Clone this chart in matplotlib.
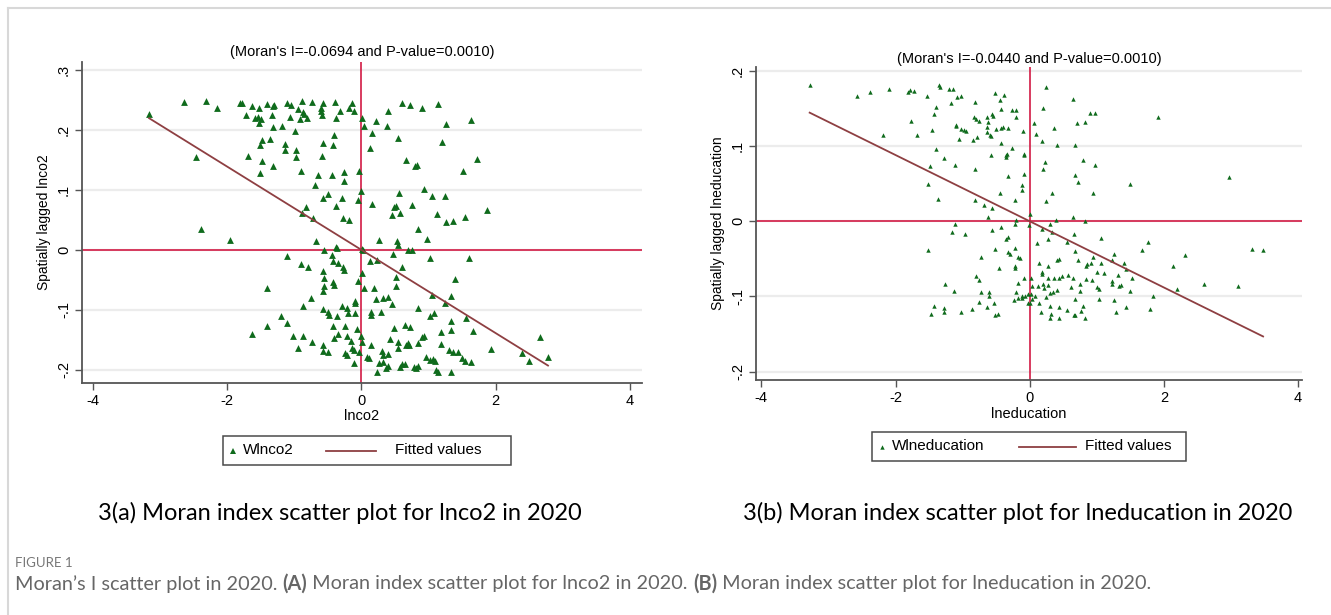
import matplotlib
matplotlib.use("Agg")
import matplotlib.pyplot as plt
from matplotlib.lines import Line2D
from matplotlib.patches import Rectangle
import numpy as np

plt.rcParams['font.family'] = ['Liberation Sans', 'DejaVu Sans']

# ---- panel (a): lnco2 vs spatially lagged lnco2 ----
lnco2 = np.array([
    -3.16, -2.64, -2.31, -2.15, -1.80, -1.77, -1.63, -1.52, -1.41, -1.32, -1.30, -1.11,
    -1.04, -0.95, -0.88, -0.87, -0.74, -0.60, -0.57, -0.39, -0.32, -0.19, -0.14, -0.11,
    0.01, 0.04, 0.22, 0.38, 0.40, 0.60, 0.73, 0.91, 1.14, 1.26, 1.64,
    -1.72, -1.59, -1.54, -1.53, -1.50, -1.33, -1.31, -1.18, -1.06, -0.99, -0.92, -0.86,
    -0.81, -0.60, -0.59, -0.38, -0.41, -0.57, -0.42, 0.16, 0.13, 0.54, 1.20, 1.73,
    -1.51, -1.48, -1.36, -1.14, -1.13, -0.97, -0.98, -0.59, -1.69, -1.48, -1.32, -2.46,
    -1.51, -0.90, -0.64, -0.44, -0.26, -0.26, -0.03, -0.69, 0.66, 0.80, 0.83, 1.52,
    -0.57, -0.50, -0.29, -0.05, 0.00, -0.38, -0.82, -0.88, -0.72, -0.27, -0.19, 0.16,
    0.49, 0.51, 0.46, 0.57, 0.56, 0.75, 0.93, 1.05, 1.24, 1.13, 1.26, 1.36, 1.55, 1.87,
    -2.39, 0.85,
    -1.96, -0.68, 0.26, 0.53, 0.54, 0.98, -0.56, -0.37, -0.36, 0.01, 0.02, 0.47, 0.69, 0.76,
    -1.11, -0.44, -0.42, -0.35, -0.28, -0.26, -0.90, -0.80, 0.13, 0.24, 1.03, 1.61, 0.61,
    -0.57, -0.55, -0.42, -0.40, -0.56, -0.57, 0.01, -0.05, 0.04, 0.19, 0.52, 0.52, 1.40, -1.40,
    -0.75, -0.29, -0.10, -0.09, 0.22, 0.32, 0.40, 0.46, 1.05, 1.34, 1.25, -0.87,
    -0.57, -0.50, -0.48, -0.36, -0.22, -0.20, -0.10, 0.14, 0.15, 0.30, 0.84, 1.02, 1.08, 1.56,
    -1.19, -1.11,
    -1.40, -0.42, -0.25, -0.07, 0.48, 0.65, 0.72, 1.33, 1.33, 1.67,
    -1.63, -1.02, -0.87, -0.74, -0.41, -0.35, -0.22, -0.16, 0.00, 0.01, 0.42, 0.55, 0.67, 0.70,
    0.85, 0.91, 0.93, 1.18, 1.18,
    -0.95, -0.57, -0.57, -0.50, -0.25, -0.21, -0.14, -0.11, -0.03, 0.09, 0.12, 0.15, 0.31, 0.32,
    0.40, 0.54, 0.71, 0.96, 1.02, 1.09, 1.06, 1.30, 1.36, 1.44, 1.50, 1.55, 1.63, 1.93, 2.40,
    2.50, 2.66, 2.78,
    -0.11, 0.24, 0.27, 0.33, 0.37, 0.40, 0.58, 0.60, 0.65, 0.78, 0.82, 0.85, 1.11, 1.14, 1.33,
])
w_lnco2 = np.array([
    0.227, 0.247, 0.248, 0.236, 0.244, 0.245, 0.240, 0.236, 0.243, 0.240, 0.241, 0.245,
    0.242, 0.234, 0.248, 0.230, 0.246, 0.236, 0.244, 0.247, 0.232, 0.236, 0.245, 0.231,
    0.219, 0.206, 0.215, 0.207, 0.232, 0.244, 0.242, 0.236, 0.243, 0.209, 0.216,
    0.224, 0.219, 0.221, 0.211, 0.218, 0.224, 0.205, 0.206, 0.222, 0.198, 0.218, 0.227,
    0.219, 0.231, 0.224, 0.219, 0.192, 0.178, 0.175, 0.194, 0.169, 0.186, 0.179, 0.152,
    0.174, 0.183, 0.184, 0.176, 0.167, 0.166, 0.154, 0.157, 0.156, 0.148, 0.140, 0.155,
    0.128, 0.132, 0.125, 0.125, 0.129, 0.115, 0.131, 0.108, 0.149, 0.139, 0.142, 0.132,
    0.086, 0.093, 0.087, 0.083, 0.098, 0.073, 0.072, 0.062, 0.053, 0.053, 0.049, 0.077,
    0.071, 0.073, 0.058, 0.062, 0.094, 0.075, 0.101, 0.089, 0.089, 0.059, 0.046, 0.048, 0.055, 0.067,
    0.034, 0.034,
    0.017, 0.014, 0.016, 0.015, 0.008, 0.018, -0.001, 0.004, 0.003, 0.002, 0.000, -0.007, 0.000, 0.000,
    -0.010, -0.008, -0.018, -0.022, -0.028, -0.033, -0.024, -0.029, -0.018, -0.017, -0.014, -0.013, -0.029,
    -0.036, -0.047, -0.053, -0.058, -0.061, -0.069, -0.039, -0.052, -0.064, -0.064, -0.046, -0.061, -0.048, -0.064,
    -0.081, -0.093, -0.086, -0.089, -0.082, -0.081, -0.079, -0.091, -0.075, -0.077, -0.088, -0.094,
    -0.098, -0.104, -0.109, -0.111, -0.097, -0.106, -0.106, -0.109, -0.103, -0.103, -0.097, -0.111, -0.106, -0.114,
    -0.110, -0.122,
    -0.127, -0.127, -0.127, -0.132, -0.131, -0.126, -0.128, -0.119, -0.134, -0.136,
    -0.141, -0.143, -0.143, -0.154, -0.147, -0.140, -0.144, -0.152, -0.143, -0.153, -0.148, -0.154, -0.158, -0.156,
    -0.156, -0.146, -0.144, -0.137, -0.157,
    -0.163, -0.158, -0.168, -0.171, -0.172, -0.175, -0.164, -0.167, -0.171, -0.179, -0.181, -0.158, -0.168, -0.175,
    -0.174, -0.163, -0.159, -0.179, -0.183, -0.186, -0.182, -0.167, -0.171, -0.171, -0.181, -0.185, -0.187, -0.165, -0.172,
    -0.186, -0.146, -0.179,
    -0.189, -0.203, -0.189, -0.187, -0.197, -0.193, -0.196, -0.191, -0.191, -0.196, -0.197, -0.193, -0.200, -0.203, -0.203,
])
moran_co2 = -0.0694

# ---- panel (b): lneducation vs spatially lagged lneducation ----
lnedu = np.array([
    -3.28, -2.58, -2.38, -2.09, -1.82, -1.79, -1.72, -1.53, -1.35, -1.33, -1.21, -1.14,
    -1.09, -1.03, -0.82, -0.52, -0.44, -0.38, -0.43, -0.26, -0.21, -0.20, 0.24, 0.20,
    0.65, 0.90, 0.97, 1.92,
    -1.39, -1.43, -1.17, -1.77, -1.10, -1.10, -1.03, -0.98, -0.95, -0.83, -0.80, -0.76,
    -0.63, -0.56, -0.55, -0.62, -0.63, -0.50, -0.43, -0.40, -0.33, -0.10, 0.07, 0.10,
    0.36, 0.70, 0.83, -0.59, -0.58, -0.64,
    -2.19, -1.68, -1.45, -1.05, -0.85, -0.78, -0.42, -0.26, 0.19, 0.40, 0.68,
    -1.40, -1.28, -1.12, -1.49, -0.82, -0.57, -0.36, -0.35, -0.34, -0.09, -0.08, 0.23,
    0.20, 0.80, 0.97,
    -1.52, -0.33, -0.09, -0.11, -0.11, -0.44, 0.67, 0.72, 0.95, 0.33, 1.50, 2.97,
    -1.36, -0.82, -0.68, -0.56, -0.22, 0.24,
    0.00, 0.64, -0.62, -0.20, -0.22, -0.01, 0.39, 0.30, 0.82,
    -1.12, -1.16, -0.97, -0.56, -0.43, 0.18, 0.33, 0.66, -0.35, -0.32, 0.11, 0.28, 0.55,
    1.07, 1.77, 1.68,
    -1.51, -0.52, -0.32, -0.29, -0.22, -0.18, -0.15, -0.72, 0.67, 0.94, 1.25, 1.23, 1.41,
    2.31, 3.32, 3.48,
    -0.45, -0.22, -0.22, 0.14, 0.28, 0.40, 0.43, 0.72, 0.84, 0.86, 0.91, 1.07, 1.43, 2.13,
    -0.80, -0.75, -0.08, 0.02, 0.18, 0.18, 0.27, 0.36, 0.43, 0.48, 0.57, 0.65, 0.84, 0.93,
    1.00, 1.11, 1.23, 1.31, 1.53,
    -1.26, -1.13, -0.73, -0.60, -0.61, -0.17, 0.03, 0.12, 0.20, 0.22, 0.28, 0.30, 0.35, 0.41,
    -0.21, -0.12, -0.07, -0.02, 0.02, 0.08, 0.61, 0.75, 0.75, 1.01, 1.04, 1.22, 1.33, 1.36,
    1.49, 1.84, 2.19, 2.60, 3.11,
    -1.42, -1.27, -1.27, -1.47, -1.02, -0.86, -0.75, -0.63, -0.52, -0.47, -0.53, -0.24,
    -0.18, -0.12, -0.02, 0.00, 0.04, 0.14, 0.17, 0.25, 0.30, 0.32, 0.44, 0.31, 0.43, 0.55,
    0.66, 0.68, 0.76, 0.79, 0.82, 0.67, 1.03, 1.26, 1.29, 1.43, 1.79,
])
w_lnedu = np.array([
    0.181, 0.166, 0.172, 0.176, 0.172, 0.175, 0.173, 0.166, 0.181, 0.179, 0.176, 0.176,
    0.165, 0.166, 0.158, 0.170, 0.161, 0.168, 0.149, 0.148, 0.148, 0.139, 0.179, 0.150,
    0.162, 0.144, 0.144, 0.139,
    0.152, 0.143, 0.157, 0.133, 0.128, 0.127, 0.123, 0.121, 0.120, 0.138, 0.136, 0.133,
    0.138, 0.143, 0.140, 0.132, 0.125, 0.123, 0.124, 0.125, 0.124, 0.120, 0.130, 0.116,
    0.124, 0.130, 0.132, 0.114, 0.113, 0.119,
    0.114, 0.115, 0.121, 0.109, 0.108, 0.112, 0.104, 0.098, 0.107, 0.101, 0.101,
    0.096, 0.084, 0.075, 0.074, 0.069, 0.088, 0.088, 0.086, 0.090, 0.089, 0.088, 0.079,
    0.069, 0.082, 0.075,
    0.050, 0.060, 0.063, 0.048, 0.041, 0.037, 0.061, 0.052, 0.038, 0.037, 0.050, 0.059,
    0.030, 0.028, 0.021, 0.018, 0.028, 0.027,
    0.009, 0.005, 0.005, 0.001, -0.004, -0.005, 0.001, -0.003, 0.000,
    -0.003, -0.014, -0.017, -0.012, -0.007, -0.010, -0.014, -0.017, -0.024, -0.021, -0.029, -0.024, -0.027,
    -0.022, -0.027, -0.038,
    -0.038, -0.037, -0.041, -0.043, -0.035, -0.048, -0.049, -0.047, -0.039, -0.048, -0.044, -0.052, -0.056,
    -0.045, -0.037, -0.038,
    -0.062, -0.059, -0.062, -0.055, -0.059, -0.051, -0.050, -0.052, -0.059, -0.057, -0.056, -0.056, -0.063, -0.059,
    -0.073, -0.078, -0.076, -0.075, -0.068, -0.070, -0.075, -0.075, -0.076, -0.073, -0.072, -0.075, -0.077, -0.078,
    -0.067, -0.069, -0.080, -0.072, -0.076,
    -0.083, -0.093, -0.094, -0.094, -0.100, -0.082, -0.086, -0.086, -0.084, -0.089, -0.085, -0.095, -0.094, -0.092,
    -0.094, -0.100, -0.099, -0.097, -0.097, -0.100, -0.087, -0.083, -0.093, -0.088, -0.090, -0.083, -0.086, -0.085,
    -0.093, -0.099, -0.090, -0.084, -0.086,
    -0.113, -0.115, -0.121, -0.123, -0.121, -0.117, -0.107, -0.114, -0.125, -0.123, -0.108, -0.105,
    -0.102, -0.102, -0.109, -0.108, -0.103, -0.109, -0.121, -0.101, -0.113, -0.123, -0.114, -0.128, -0.128, -0.118,
    -0.125, -0.124, -0.119, -0.112, -0.128, -0.104, -0.104, -0.105, -0.121, -0.114, -0.117,
])
moran_edu = -0.0440

xticks = [-4, -2, 0, 2, 4]
yticks_a = [-0.2, -0.1, 0, 0.1, 0.2, 0.3]
ylabels_a = ['-.2', '-.1', '0', '.1', '.2', '.3']
yticks_b = [-0.2, -0.1, 0, 0.1, 0.2]
ylabels_b = ['-.2', '-.1', '0', '.1', '.2']

GREEN = '#0f6b1c'
RED = '#d21a44'
FIT = '#8e3f42'
GRID = '#ececec'
AXC = '#555555'

W, H = 1331.0, 615.0


def fx(px):
    return px / W


def fy(py):
    return 1 - py / H


def moran_panel(ax, x, y, slope, title, xlabel, ylabel, yt, ytl, ylim, xlim, msize, tpad):
    for t in yt:
        ax.axhline(t, color=GRID, lw=1.6, zorder=0)
    ax.axhline(0, color=RED, lw=1.2, zorder=1)
    ax.axvline(0, color=RED, lw=1.2, zorder=1)
    ax.scatter(x, y, marker='^', s=msize, color=GREEN, lw=0, zorder=3)
    xs = np.array([x.min(), x.max()])
    ax.plot(xs, slope * xs, color=FIT, lw=1.3, zorder=4)
    ax.set_xlim(*xlim)
    ax.set_ylim(*ylim)
    ax.set_xticks(xticks)
    ax.set_xticklabels([str(v) for v in xticks])
    ax.set_yticks(yt)
    ax.set_yticklabels(ytl, rotation=90, va='center')
    for s in ['top', 'right']:
        ax.spines[s].set_visible(False)
    for s in ['left', 'bottom']:
        ax.spines[s].set_color(AXC)
        ax.spines[s].set_linewidth(1.3)
    ax.tick_params(direction='out', length=5, width=1, color=AXC, labelsize=10.5, pad=3)
    ax.set_title(title, fontsize=10.5, pad=tpad)
    ax.set_xlabel(xlabel, fontsize=10.5, labelpad=1)
    ax.set_ylabel(ylabel, fontsize=10, labelpad=4)


def stata_legend(fig, box, mk_x, t1_x, ln_x, t2_x, name, msize):
    x0, y0, x1, y1 = box
    fig.add_artist(Rectangle((fx(x0), fy(y1)), (x1 - x0) / W, (y1 - y0) / H,
                             transform=fig.transFigure, facecolor='white',
                             edgecolor='#4a4a4a', lw=1.1))
    yc = fy((y0 + y1) / 2)
    fig.add_artist(Line2D([fx(mk_x)], [yc], marker='^', ls='none', color=GREEN,
                          ms=np.sqrt(msize), mew=0, transform=fig.transFigure))
    fig.text(fx(t1_x), yc, name, ha='left', va='center', fontsize=11)
    fig.add_artist(Line2D([fx(ln_x[0]), fx(ln_x[1])], [yc, yc], color=FIT, lw=1.3,
                          transform=fig.transFigure))
    fig.text(fx(t2_x), yc, 'Fitted values', ha='left', va='center', fontsize=11)


fig = plt.figure(figsize=(13.31, 6.15), dpi=100)

ax1 = fig.add_axes([fx(82), fy(383), 560 / W, 321 / H])
moran_panel(ax1, lnco2, w_lnco2, moran_co2, "(Moran's I=-0.0694 and P-value=0.0010)",
            'lnco2', 'Spatially lagged lnco2', yticks_a, ylabels_a,
            (-0.222, 0.313), (-4.16, 4.18), 24, 4)
stata_legend(fig, (223, 436, 511, 465), 233, 243, (326, 376), 395, 'Wlnco2', 24)

ax2 = fig.add_axes([fx(756), fy(380), 546 / W, 313 / H])
moran_panel(ax2, lnedu, w_lnedu, moran_edu, "(Moran's I=-0.0440 and P-value=0.0010)",
            'lneducation', 'Spatially lagged lneducation', yticks_b, ylabels_b,
            (-0.211, 0.205), (-4.08, 4.06), 10, 3)
stata_legend(fig, (872, 432, 1186, 461), 882, 892, (1019, 1076), 1085, 'Wlneducation', 10)

# light frame around the figure panel
fig.add_artist(Line2D([fx(8), 1], [fy(8), fy(8)], transform=fig.transFigure,
                      color='#d8d8d8', lw=1.5))
fig.add_artist(Line2D([fx(8), fx(8)], [0, fy(8)], transform=fig.transFigure,
                      color='#d8d8d8', lw=1.5))

cap_font = ['Lato', 'DejaVu Sans']
fig.text(fx(340), fy(513), '3(a) Moran index scatter plot for lnco2 in 2020',
         ha='center', va='center', fontsize=17, family=cap_font)
fig.text(fx(1018), fy(513), '3(b) Moran index scatter plot for lneducation in 2020',
         ha='center', va='center', fontsize=17, family=cap_font)

fig.text(fx(15), fy(563), 'FIGURE 1', ha='left', va='center', fontsize=9.5,
         color='#777777', family=cap_font)

parts = [("Moran\u2019s I scatter plot in 2020. ", 'normal'), ('(A)', 'bold'),
         (' Moran index scatter plot for lnco2 in 2020. ', 'normal'), ('(B)', 'bold'),
         (' Moran index scatter plot for lneducation in 2020.', 'normal')]
renderer = fig.canvas.get_renderer()
xpos = 15
for txt, wt in parts:
    t = fig.text(fx(xpos), fy(584), txt, ha='left', va='center', fontsize=14.3,
                 color='#666666', weight=wt, family=cap_font)
    xpos += t.get_window_extent(renderer=renderer).width

fig.savefig('out.png', dpi=100)
